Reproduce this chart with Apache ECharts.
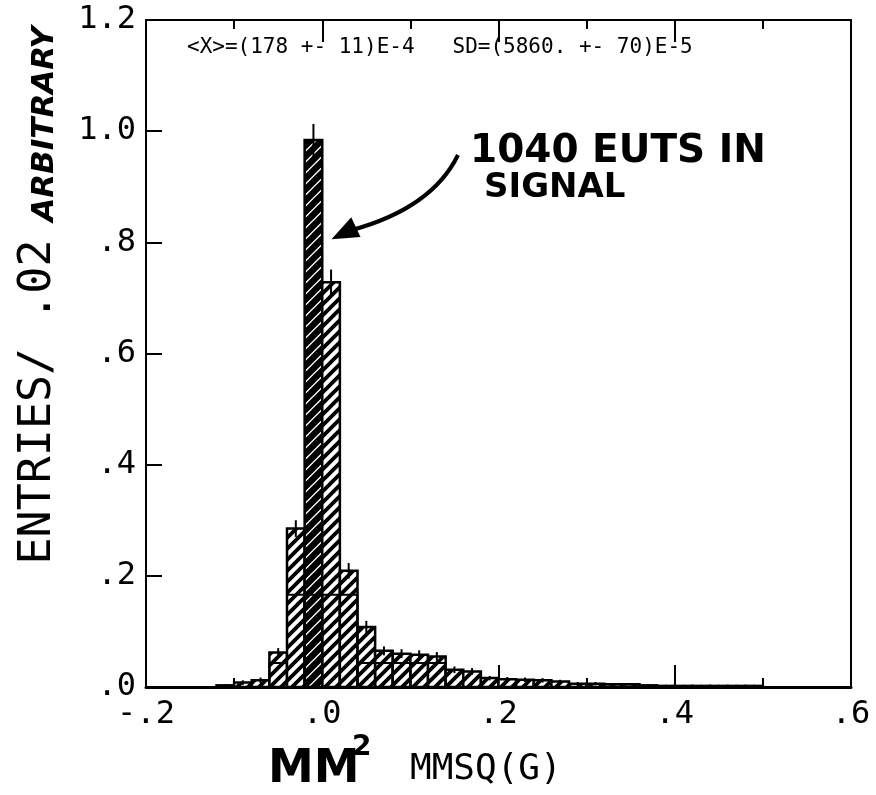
<!DOCTYPE html>
<html>
<head>
  <meta charset="utf-8">
  <title>MMSQ</title>
  <script src="https://cdn.jsdelivr.net/npm/echarts@6/dist/echarts.min.js"></script>
</head>
<body style="margin:0;background:#fff">
  <div id="main" style="width:876px;height:795px"></div>
  <script type="text/javascript">
    // bin centres (bin width .02) and entries
    var binCenters = [-0.11, -0.09, -0.07, -0.05, -0.03, -0.01, 0.01, 0.03, 0.05, 0.07, 0.09, 0.11, 0.13,
                      0.15, 0.17, 0.19, 0.21, 0.23, 0.25, 0.27, 0.29, 0.31, 0.33, 0.35, 0.37, 0.39,
                      0.41, 0.43, 0.45, 0.47, 0.49];
    var entries = [0.003, 0.008, 0.012, 0.062, 0.285, 0.984, 0.728, 0.209, 0.108, 0.065, 0.060, 0.058, 0.055,
                   0.031, 0.028, 0.016, 0.014, 0.013, 0.012, 0.010, 0.006, 0.006, 0.005, 0.005, 0.003, 0.002,
                   0.002, 0.002, 0.002, 0.002, 0.002];
    var errors  = [0.002, 0.004, 0.005, 0.008, 0.015, 0.029, 0.023, 0.014, 0.011, 0.008, 0.008, 0.008, 0.008,
                   0.006, 0.006, 0.004, 0.004, 0.004, 0.004, 0.003, 0.003, 0.003, 0.002, 0.002, 0.002, 0.002,
                   0.002, 0.002, 0.002, 0.002, 0.002];
    // second (overlaid) histogram, only its outline shows
    var innerCenters = [-0.05, -0.03, -0.01, 0.01, 0.03, 0.05, 0.07, 0.09, 0.11, 0.13];
    var innerEntries = [0.043, 0.166, 0.166, 0.166, 0.166, 0.043, 0.043, 0.043, 0.043, 0.043];

    var xTicks = [-0.2, 0.0, 0.2, 0.4, 0.6];
    var yTicks = [0.0, 0.2, 0.4, 0.6, 0.8, 1.0, 1.2];
    var BIN = 0.02;

    var mono = "'DejaVu Sans Mono', 'Liberation Mono', monospace";
    var hand = "'DejaVu Sans', 'Liberation Sans', sans-serif";

    // plotter style number: .8, -.2, 1.0
    function fmt(v) {
      var s = Math.abs(v).toFixed(1);
      if (s.charAt(0) === '0') s = s.slice(1);
      return (v < -1e-9 ? '-' : '') + s;
    }

    function hatch(p, lw) {
      var c = document.createElement('canvas');
      c.width = c.height = p;
      var g = c.getContext('2d');
      g.fillStyle = '#fff';
      g.fillRect(0, 0, p, p);
      g.strokeStyle = '#000';
      g.lineWidth = lw;
      g.beginPath();
      g.moveTo(-1, p + 1); g.lineTo(p + 1, -1);
      g.moveTo(-p / 2 - 1, p / 2 + 1); g.lineTo(p / 2 + 1, -p / 2 - 1);
      g.moveTo(p / 2 - 1, p * 1.5 + 1); g.lineTo(p * 1.5 + 1, p / 2 - 1);
      g.stroke();
      return c;
    }
    var hatchFill = { image: hatch(11, 3.8), repeat: 'repeat' };
    var darkFill = { image: hatch(11, 6.5), repeat: 'repeat' };
    var peak = Math.max.apply(null, entries);

    var myChart = echarts.init(document.getElementById('main'));

    var option = {
      backgroundColor: '#fff',
      animation: false,
      grid: { left: 146, right: 25, top: 20, bottom: 108 },
      xAxis: [{
        type: 'value', min: -0.2, max: 0.6, interval: 0.2, position: 'bottom',
        axisLine: { show: true, onZero: false, lineStyle: { color: '#000', width: 3 } },
        axisTick: { show: true, inside: true, length: 22, lineStyle: { color: '#000', width: 2 } },
        minorTick: { show: true, splitNumber: 2, length: 9, lineStyle: { color: '#000', width: 2 } },
        splitLine: { show: false },
        axisLabel: {
          color: '#000', fontSize: 32, fontFamily: mono, margin: 12,
          formatter: function (v) { return xTicks.indexOf(+v.toFixed(1)) >= 0 ? fmt(v) : ''; }
        }
      }, {
        type: 'value', min: -0.2, max: 0.6, interval: 0.2, position: 'top',
        axisLine: { show: true, onZero: false, lineStyle: { color: '#000', width: 2 } },
        axisTick: { show: true, inside: true, length: 22, lineStyle: { color: '#000', width: 2 } },
        minorTick: { show: true, splitNumber: 2, length: 9, lineStyle: { color: '#000', width: 2 } },
        splitLine: { show: false },
        axisLabel: { show: false }
      }],
      yAxis: [{
        type: 'value', min: 0, max: 1.2, interval: 0.2,
        axisLine: { show: true, onZero: false, lineStyle: { color: '#000', width: 2 } },
        axisTick: { show: true, inside: true, length: 16, lineStyle: { color: '#000', width: 2 } },
        splitLine: { show: false },
        axisLabel: {
          color: '#000', fontSize: 32, fontFamily: mono, margin: 10,
          formatter: function (v) { return yTicks.indexOf(+v.toFixed(1)) >= 0 ? fmt(v) : ''; }
        }
      }, {
        type: 'value', min: 0, max: 1.2, position: 'right',
        axisLine: { show: true, onZero: false, lineStyle: { color: '#000', width: 2 } },
        axisTick: { show: false }, axisLabel: { show: false }, splitLine: { show: false }
      }],
      series: [{
        name: 'entries',
        type: 'custom',
        xAxisIndex: 0, yAxisIndex: 0,
        data: binCenters.map(function (c, i) { return [c, entries[i]]; }),
        encode: { x: 0, y: 1 },
        renderItem: function (params, api) {
          var c = api.value(0), v = api.value(1);
          var a = api.coord([c - BIN / 2, v]);
          var b = api.coord([c + BIN / 2, 0]);
          return {
            type: 'rect',
            shape: { x: a[0], y: a[1], width: b[0] - a[0], height: b[1] - a[1] },
            style: { fill: v === peak ? darkFill : hatchFill, stroke: '#000', lineWidth: 2.5 }
          };
        },
        z: 2
      }, {
        name: 'inner',
        type: 'custom',
        data: innerCenters.map(function (c, i) { return [c, innerEntries[i]]; }),
        encode: { x: 0, y: 1 },
        renderItem: function (params, api) {
          var c = api.value(0), v = api.value(1);
          var a = api.coord([c - BIN / 2, v]);
          var b = api.coord([c + BIN / 2, 0]);
          return {
            type: 'rect',
            shape: { x: a[0], y: a[1], width: b[0] - a[0], height: b[1] - a[1] },
            style: { fill: 'none', stroke: '#000', lineWidth: 2 }
          };
        },
        z: 3
      }, {
        name: 'errors',
        type: 'custom',
        data: binCenters.map(function (c, i) { return [c, entries[i], errors[i]]; }),
        encode: { x: 0, y: 1 },
        renderItem: function (params, api) {
          var c = api.value(0), v = api.value(1), e = api.value(2);
          var a = api.coord([c, v + e]);
          var b = api.coord([c, Math.max(0, v - e)]);
          return {
            type: 'line',
            shape: { x1: a[0], y1: a[1], x2: b[0], y2: b[1] },
            style: { stroke: '#000', lineWidth: 2 }
          };
        },
        z: 4
      }],
      graphic: [
        { type: 'text', x: 187, y: 48,
          style: { text: '<X>=(178 +- 11)E-4   SD=(5860. +- 70)E-5', font: '21px ' + mono,
                   fill: '#000', verticalAlign: 'middle' } },
        { type: 'text', x: 45, y: 124, rotation: Math.PI / 2,
          style: { text: 'ARBITRARY', font: 'italic bold 31px ' + hand, fill: '#000',
                   align: 'center', verticalAlign: 'middle' } },
        { type: 'text', x: 38, y: 402, rotation: Math.PI / 2,
          style: { text: 'ENTRIES/ .02', font: '45px ' + mono, fill: '#000',
                   align: 'center', verticalAlign: 'middle' } },
        { type: 'text', x: 470, y: 152,
          style: { text: '1040 EUTS IN', font: 'bold 39px ' + hand, fill: '#000', verticalAlign: 'middle' } },
        { type: 'text', x: 484, y: 188,
          style: { text: 'SIGNAL', font: 'bold 34px ' + hand, fill: '#000', verticalAlign: 'middle' } },
        { type: 'bezierCurve',
          shape: { x1: 458, y1: 155, cpx1: 432, cpy1: 208, x2: 352, y2: 230 },
          style: { stroke: '#000', lineWidth: 4, fill: null } },
        { type: 'polygon',
          shape: { points: [[334, 238], [351, 219], [359, 236]] },
          style: { fill: '#000', stroke: '#000', lineWidth: 2 } },
        { type: 'text', x: 268, y: 770,
          style: { text: 'MM', font: 'bold 46px ' + hand, fill: '#000', verticalAlign: 'middle' } },
        { type: 'text', x: 352, y: 748,
          style: { text: '2', font: 'bold 28px ' + hand, fill: '#000', verticalAlign: 'middle' } },
        { type: 'text', x: 410, y: 770,
          style: { text: 'MMSQ(G)', font: '36px ' + mono, fill: '#000', verticalAlign: 'middle' } }
      ]
    };
    myChart.setOption(option);
  </script>
</body>
</html>
